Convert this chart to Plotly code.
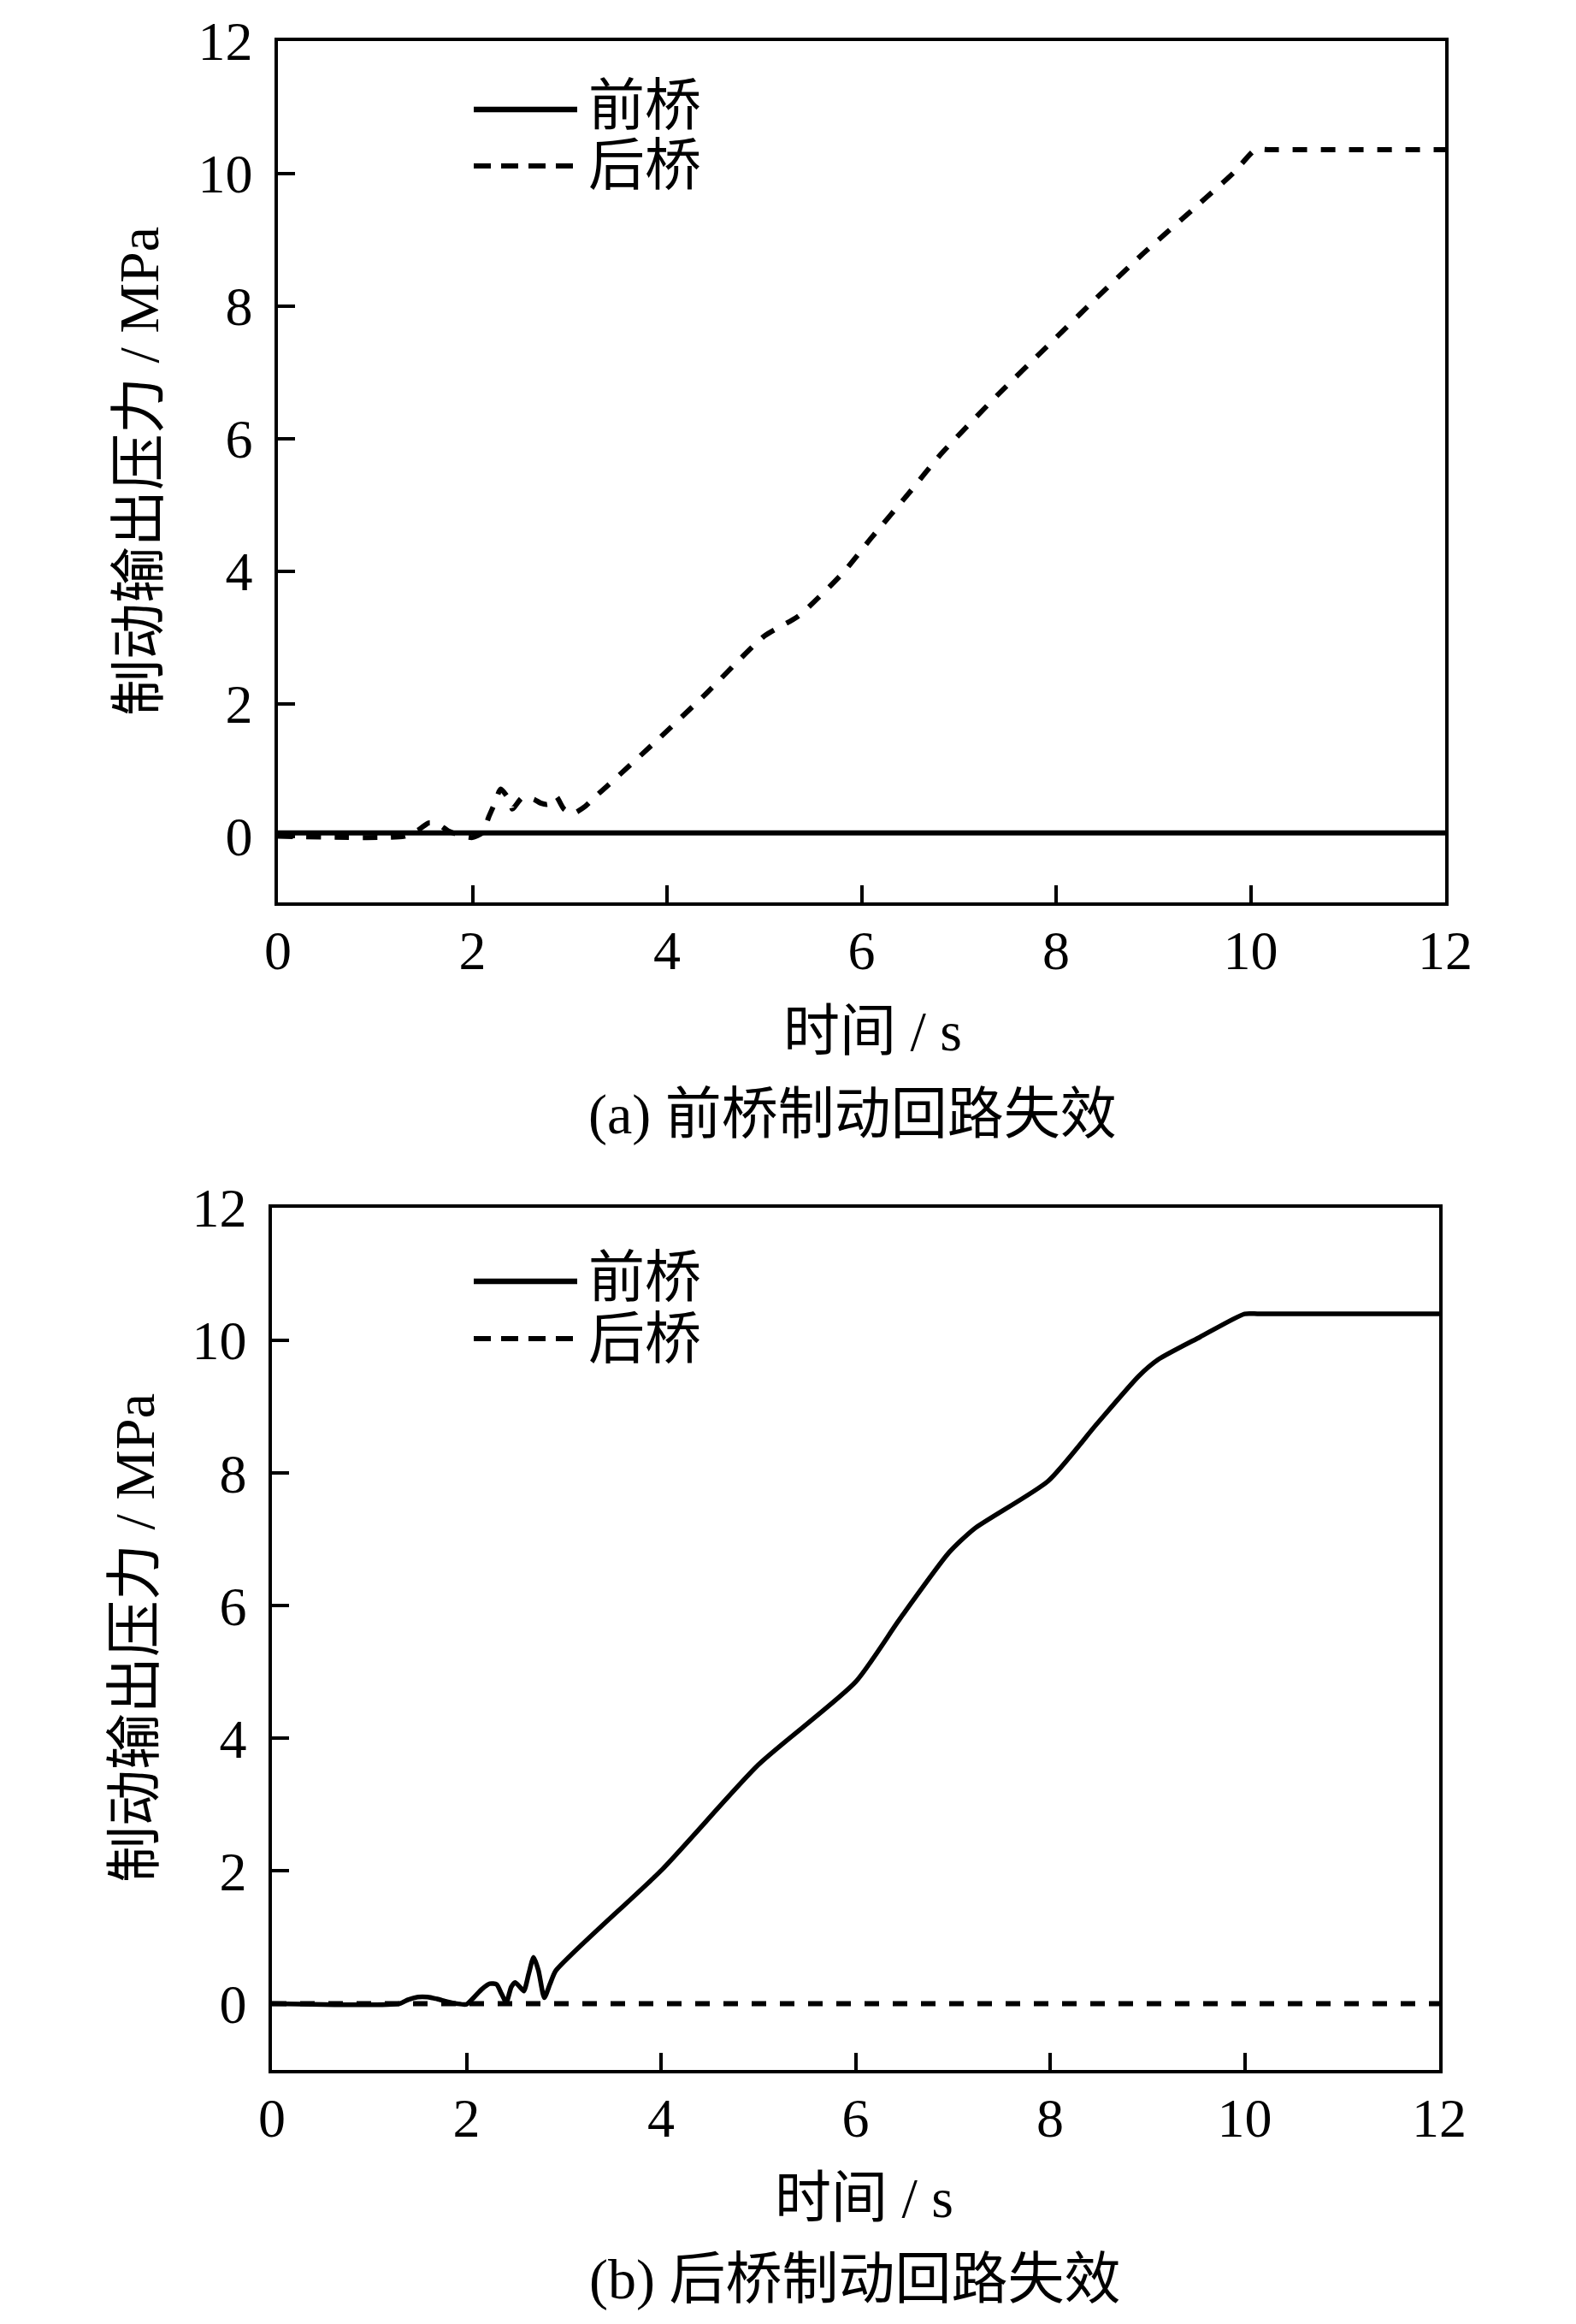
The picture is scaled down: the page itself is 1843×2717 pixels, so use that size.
import plotly.graph_objects as go

W, H = 1843, 2717
OFF = 8               # default page margin of the browser
FW, FH = W - 2 * OFF, H - 2 * OFF

# ---------------- data ----------------
# (a) 前桥制动回路失效
t_a_front = [0, 12]
p_a_front = [0.05, 0.05]

t_a_rear = [0, 1.3, 1.45, 1.55, 1.65, 1.75, 1.9, 2.0, 2.1, 2.17, 2.23, 2.29, 2.39, 2.41,
            2.51, 2.58, 2.64, 2.7, 2.77, 2.82, 2.86, 2.94, 3.03, 3.16, 3.25, 3.38, 3.9,
            4.38, 5.0, 5.35, 5.8, 6.1, 6.5, 6.8, 7.4, 7.9, 8.4, 8.9, 9.4, 9.83, 10.05, 10.2, 12]
p_a_rear = [0, 0, 0.1, 0.2, 0.18, 0.08, 0.0, -0.02, 0.05, 0.3, 0.5, 0.71, 0.52, 0.41,
            0.58, 0.58, 0.55, 0.5, 0.48, 0.55, 0.6, 0.41, 0.34, 0.45, 0.58, 0.75, 1.45,
            2.12, 3.02, 3.32, 3.96, 4.5, 5.2, 5.74, 6.66, 7.38, 8.1, 8.8, 9.45, 10.02, 10.36, 10.36, 10.36]

# (b) 后桥制动回路失效
t_b_front = [0, 1.31, 1.4, 1.5, 1.6, 1.7, 1.8, 1.9, 2.0, 2.08, 2.16, 2.24, 2.31, 2.36,
             2.41, 2.46, 2.5, 2.55, 2.59, 2.64, 2.69, 2.74, 2.8, 2.86, 2.92, 4.01, 5.0,
             6.0, 6.46, 6.96, 7.22, 7.98, 8.48, 8.91, 9.11, 9.54, 10.0, 10.15, 12]
p_b_front = [0, 0, 0.06, 0.1, 0.1, 0.07, 0.03, 0.0, -0.01, 0.1, 0.22, 0.3, 0.29, 0.15,
             0.02, 0.25, 0.32, 0.25, 0.19, 0.45, 0.70, 0.5, 0.09, 0.3, 0.5, 2.02, 3.6,
             4.85, 5.81, 6.8, 7.16, 7.88, 8.74, 9.46, 9.71, 10.05, 10.4, 10.4, 10.4]
t_b_rear = [0, 12]
p_b_rear = [0, 0]

x_ticks = [0, 2, 4, 6, 8, 10, 12]
y_ticks = [0, 2, 4, 6, 8, 10, 12]
legend_names = ["前桥", "后桥"]
captions = ["(a) 前桥制动回路失效", "(b) 后桥制动回路失效"]
x_title = "时间 / s"
y_title = "制动输出压力 / MPa"

# ---------------- figure ----------------
FONT = "Liberation Serif, 'Noto Sans CJK SC', serif"
DASH = "17px,16px"


def px(x):
    return (x - OFF) / FW


def py(y):
    return 1 - (y - OFF) / FH


fig = go.Figure()
fig.add_trace(go.Scatter(x=t_a_front, y=p_a_front, mode="lines", name=legend_names[0],
                         line=dict(color="black", width=6), xaxis="x", yaxis="y", showlegend=False))
fig.add_trace(go.Scatter(x=t_a_rear, y=p_a_rear, mode="lines", name=legend_names[1],
                         line=dict(color="black", width=6, dash=DASH, shape="spline", smoothing=0.6),
                         xaxis="x", yaxis="y", showlegend=False))
fig.add_trace(go.Scatter(x=t_b_front, y=p_b_front, mode="lines", name=legend_names[0],
                         line=dict(color="black", width=5.5, shape="spline", smoothing=0.6),
                         xaxis="x2", yaxis="y2", showlegend=False))
fig.add_trace(go.Scatter(x=t_b_rear, y=p_b_rear, mode="lines", name=legend_names[1],
                         line=dict(color="black", width=6, dash=DASH), xaxis="x2", yaxis="y2", showlegend=False))

axis_common = dict(showline=True, linewidth=3.5, linecolor="black", mirror=True,
                   ticks="inside", ticklen=20, tickwidth=3.5, tickcolor="black",
                   showgrid=False, zeroline=False,
                   tickfont=dict(family=FONT, size=64, color="black"))

fig.update_layout(
    width=FW, height=FH, template="none",
    paper_bgcolor="white", plot_bgcolor="white",
    margin=dict(l=0, r=0, t=0, b=0),
    xaxis=dict(domain=[px(325), px(1690)], range=[0, 12], tickvals=x_ticks,
               anchor="y", ticklabelstandoff=-3, **axis_common),
    yaxis=dict(domain=[py(1055), py(48)], range=[-1, 12], tickvals=y_ticks,
               anchor="x", ticklabelstandoff=13, **axis_common),
    xaxis2=dict(domain=[px(318), px(1683)], range=[0, 12], tickvals=x_ticks,
                anchor="y2", ticklabelstandoff=-3, **axis_common),
    yaxis2=dict(domain=[py(2420), py(1412)], range=[-1, 12], tickvals=y_ticks,
                anchor="x2", ticklabelstandoff=13, **axis_common),
)

shapes = []
annotations = []
TF = dict(family=FONT, size=66, color="black")

# manual legends
for y_solid, y_dash in [(128, 194), (1498, 1565)]:
    shapes.append(dict(type="line", xref="paper", yref="paper",
                       x0=px(554), x1=px(675), y0=py(y_solid), y1=py(y_solid),
                       line=dict(color="black", width=6.5)))
    shapes.append(dict(type="line", xref="paper", yref="paper",
                       x0=px(554), x1=px(675), y0=py(y_dash), y1=py(y_dash),
                       line=dict(color="black", width=6, dash="20px,12px")))
    annotations.append(dict(text=legend_names[0], xref="paper", yref="paper",
                            x=px(686), y=py(y_solid - 4), xanchor="left", yanchor="middle",
                            showarrow=False, font=TF))
    annotations.append(dict(text=legend_names[1], xref="paper", yref="paper",
                            x=px(686), y=py(y_dash), xanchor="left", yanchor="middle",
                            showarrow=False, font=TF))

# titles & captions
for (xt, yt), (xc, yc), (xy, yy), cap in [((1020, 1205), (997, 1303), (163, 551), captions[0]),
                                           ((1010, 2569), (1000, 2665), (158, 1915), captions[1])]:
    annotations.append(dict(text=x_title, xref="paper", yref="paper", x=px(xt), y=py(yt),
                            xanchor="center", yanchor="middle", showarrow=False, font=TF))
    annotations.append(dict(text=cap, xref="paper", yref="paper", x=px(xc), y=py(yc),
                            xanchor="center", yanchor="middle", showarrow=False, font=TF))
    annotations.append(dict(text=y_title, xref="paper", yref="paper", x=px(xy), y=py(yy),
                            xanchor="center", yanchor="middle", textangle=-90,
                            showarrow=False, font=TF))

fig.update_layout(shapes=shapes, annotations=annotations)
fig.write_html("out.html")
